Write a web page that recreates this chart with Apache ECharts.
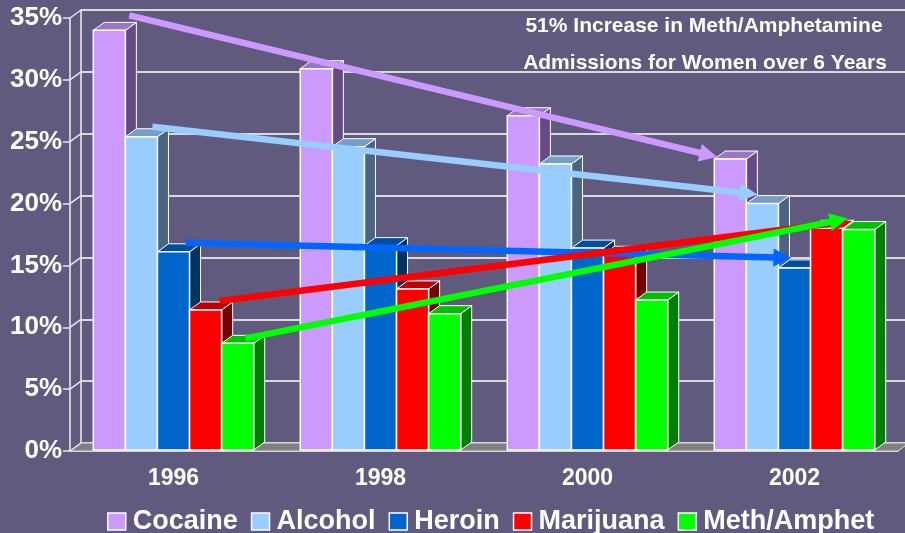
<!DOCTYPE html>
<html>
<head>
<meta charset="utf-8">
<script src="https://cdn.jsdelivr.net/npm/echarts@6/dist/echarts.min.js"></script>
<style>
  html, body { margin: 0; padding: 0; background: #605a7e; }
  #mainView { width: 905px; height: 533px; }
</style>
</head>
<body>
<div id="mainView"></div>
<script>
// data
var years = ['1996', '1998', '2000', '2002'];
var cocaine = [34.0, 30.9, 27.1, 23.6];
var alcohol = [25.4, 24.6, 23.2, 20.0];
var heroin = [16.1, 16.6, 16.4, 14.8];
var marijuana = [11.4, 13.1, 15.9, 18.0];
var meth = [8.7, 11.1, 12.2, 17.9];
var yTicks = [0, 5, 10, 15, 20, 25, 30, 35];

var names = ['Cocaine', 'Alcohol', 'Heroin', 'Marijuana', 'Meth/Amphet'];
var values = [cocaine, alcohol, heroin, marijuana, meth];

var FRONT = ['#cc99ff', '#99ccff', '#0066cc', '#ff0000', '#00ff00'];
var TOP = ['#9c76c6', '#769fc6', '#004f9e', '#c00000', '#00c000'];
var SIDE = ['#654b86', '#4b6482', '#003366', '#7a0000', '#007f00'];
var ARROW = ['#cc99ff', '#99ccff', '#0066ff', '#ff0000', '#00ff00'];
// arrow start/end offsets relative to the bar top (px)
var ARROW_OFF = [
    [36, -15, 3, -2],
    [27, -10, 11, -9],
    [28, -9, 13, -10],
    [30, -9, 39, -7],
    [24, -5, 5, -11]
];

var DX = 11, DY = 8;   // 3d depth
var BAR_FRAC = 0.155;

function barGeom(api, cat, val, idx) {
    var top = api.coord([cat, val]);
    var base = api.coord([cat, 0]);
    var bw = api.size([1, 0])[0] * BAR_FRAC;
    var x0 = top[0] - 2.5 * bw + idx * bw;
    return {x0: x0, x1: x0 + bw, bw: bw, yT: top[1], yB: base[1] - 1};
}

function barSeries(idx) {
    return {
        name: names[idx],
        type: 'custom',
        z: 3,
        itemStyle: {color: FRONT[idx]},
        encode: {x: 0, y: 1},
        data: values[idx].map(function (v, i) { return [i, v]; }),
        renderItem: function (params, api) {
            var g = barGeom(api, api.value(0), api.value(1), idx);
            return {
                type: 'group',
                children: [
                    {type: 'polygon', shape: {points: [[g.x1, g.yB], [g.x1 + DX, g.yB - DY], [g.x1 + DX, g.yT - DY], [g.x1, g.yT]]},
                        style: {fill: SIDE[idx], stroke: '#fff', lineWidth: 1}},
                    {type: 'polygon', shape: {points: [[g.x0, g.yT], [g.x0 + DX, g.yT - DY], [g.x1 + DX, g.yT - DY], [g.x1, g.yT]]},
                        style: {fill: TOP[idx], stroke: '#fff', lineWidth: 1}},
                    {type: 'rect', shape: {x: g.x0, y: g.yT, width: g.bw, height: g.yB - g.yT},
                        style: {fill: FRONT[idx], stroke: '#fff', lineWidth: 1.5}}
                ]
            };
        }
    };
}

function arrowSeries(idx) {
    var vals = values[idx];
    var last = vals.length - 1;
    var off = ARROW_OFF[idx];
    return {
        name: 'trend' + idx,
        type: 'custom',
        z: 10 + idx,
        silent: true,
        encode: {x: 0, y: 1},
        data: [[0, vals[0]]],
        renderItem: function (params, api) {
            var a = barGeom(api, 0, vals[0], idx);
            var b = barGeom(api, last, vals[last], idx);
            var sx = a.x0 + off[0], sy = a.yT + off[1];
            var ex = b.x0 + off[2], ey = b.yT + off[3];
            var len = Math.sqrt((ex - sx) * (ex - sx) + (ey - sy) * (ey - sy));
            var ux = (ex - sx) / len, uy = (ey - sy) / len;
            var hl = 18, hw = 9;
            var bx = ex - ux * hl, by = ey - uy * hl;
            return {
                type: 'group',
                children: [
                    {type: 'line', shape: {x1: sx, y1: sy, x2: bx + ux * 2, y2: by + uy * 2},
                        style: {stroke: ARROW[idx], lineWidth: 6.5}},
                    {type: 'polygon', shape: {points: [[ex, ey], [bx - uy * hw, by + ux * hw], [bx + uy * hw, by - ux * hw]]},
                        style: {fill: ARROW[idx]}}
                ]
            };
        }
    };
}

var decor = {
    name: 'decor',
    type: 'custom',
    z: 1,
    silent: true,
    data: [[0, 0]],
    renderItem: function (params, api) {
        var catW = api.size([1, 0])[0];
        var xL = api.coord([0, 0])[0] - catW / 2;
        var xR = api.coord([years.length - 1, 0])[0] + catW / 2;
        var y0 = api.coord([0, 0])[1];
        var kids = [
            {type: 'polygon', shape: {points: [[xL, y0], [xR, y0], [xR + DX, y0 - DY], [xL + DX, y0 - DY]]},
                style: {fill: '#808080', stroke: '#d9d9d9', lineWidth: 1}}
        ];
        yTicks.forEach(function (t) {
            var y = api.coord([0, t])[1];
            kids.push({type: 'line', shape: {x1: xL, y1: y, x2: xL + DX, y2: y - DY},
                style: {stroke: '#e6e6e6', lineWidth: 1.5}});
        });
        return {type: 'group', children: kids};
    }
};

var series = [decor];
for (var i = 0; i < names.length; i++) series.push(barSeries(i));
for (var j = 0; j < names.length; j++) series.push(arrowSeries(j));

var chart = echarts.init(document.getElementById('mainView'));
chart.setOption({
    backgroundColor: '#605a7e',
    animation: false,
    textStyle: {fontFamily: 'Arial, "Liberation Sans", sans-serif'},
    graphic: [
        {type: 'text', style: {text: '51% Increase in Meth/Amphetamine', x: 704, y: 26,
            align: 'center', verticalAlign: 'middle', fill: '#fff', font: 'bold 21px "Liberation Sans", Arial'}},
        {type: 'text', style: {text: 'Admissions for Women over 6 Years', x: 705, y: 63,
            align: 'center', verticalAlign: 'middle', fill: '#fff', font: 'bold 21px "Liberation Sans", Arial'}}
    ],
    legend: {
        data: names,
        left: 102,
        top: 503,
        icon: 'rect',
        itemWidth: 18,
        itemHeight: 17,
        itemGap: 13,
        itemStyle: {borderColor: '#fff', borderWidth: 1.5},
        textStyle: {color: '#fff', fontSize: 27, fontWeight: 'bold', padding: [0, 0, 0, 2]}
    },
    grid: [
        {left: 70, right: 7, top: 18, bottom: 82},
        {left: 81, width: 828, top: 10, height: 433}
    ],
    xAxis: [
        {
            type: 'category', gridIndex: 0, data: years,
            axisLine: {lineStyle: {color: '#f0f0f0', width: 1.5}},
            axisTick: {length: 6, lineStyle: {color: '#f0f0f0', width: 1.5}},
            axisLabel: {color: '#fff', fontSize: 23, fontWeight: 'bold', margin: 16}
        },
        {type: 'category', gridIndex: 1, data: years, show: false}
    ],
    yAxis: [
        {
            type: 'value', gridIndex: 0, min: 0, max: 35, interval: 5,
            axisLine: {show: true, lineStyle: {color: '#f0f0f0', width: 1.5}},
            axisTick: {show: true, length: 7, lineStyle: {color: '#e6e6e6', width: 1.5}},
            axisLabel: {color: '#fff', fontSize: 26, fontWeight: 'bold', margin: 8, formatter: '{value}%'},
            splitLine: {show: false}
        },
        {
            type: 'value', gridIndex: 1, min: 0, max: 35, interval: 5,
            axisLine: {show: true, lineStyle: {color: '#f0f0f0', width: 1.5}},
            axisTick: {show: false},
            axisLabel: {show: false},
            splitLine: {lineStyle: {color: '#d9d9d9', width: 2}}
        }
    ],
    series: series
});
</script>
</body>
</html>
